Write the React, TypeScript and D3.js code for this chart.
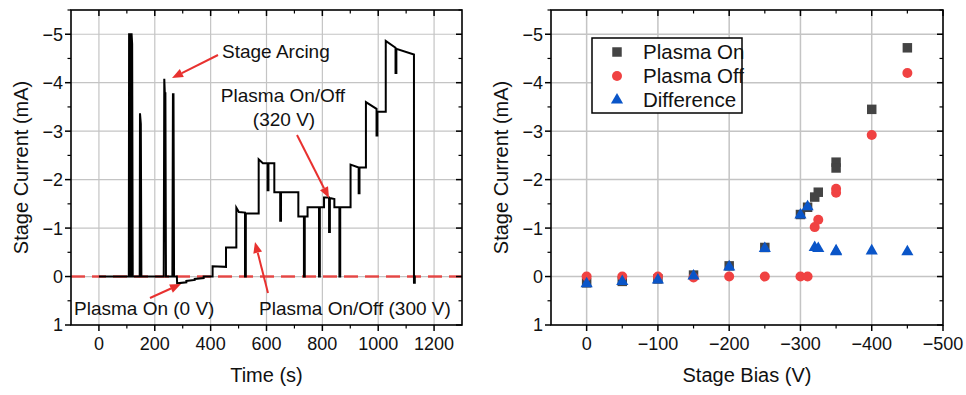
import React from "react";
import * as d3 from "d3";

// ---------- Left panel: stage current vs time ----------
const timeS = [
  0, 107, 108, 110, 111, 114, 115, 117, 119, 121,
  146, 147, 150, 152,
  232, 234, 236, 238, 240,
  263, 265, 267, 269,
  279, 280, 313, 313, 343, 343, 375, 375, 407,
  407, 455, 455, 492, 492, 501, 523, 523, 526, 526, 572,
  572, 587, 604, 604, 607, 607, 628, 628, 649, 649, 652, 652, 714,
  714, 734, 734, 737, 737, 747, 747, 788, 788, 791, 791, 806, 806, 824, 824, 827, 827, 843, 843, 861, 861, 864, 864, 901,
  901, 930, 930, 933, 933, 956,
  956, 994, 994, 997, 997, 1027,
  1027, 1062, 1062, 1065, 1065, 1128,
  1128, 1131, 1131, 1134,
];
const currentMA = [
  0, 0, -5.0, -5.0, 0, 0, -5.0, -5.0, -4.8, 0,
  0, -3.37, -3.15, 0,
  0, -4.08, -3.78, -3.78, 0,
  0, -3.76, -3.76, 0,
  0, 0.14, 0.12, 0.09, 0.07, 0.05, 0.03, 0.0, 0,
  -0.21, -0.2, -0.6, -0.6, -1.42, -1.33, -1.32, 0, 0, -1.3, -1.3,
  -2.42, -2.34, -2.34, -1.78, -1.78, -2.34, -2.34, -1.74, -1.74, -1.15, -1.15, -1.74, -1.74,
  -1.24, -1.24, 0, 0, -1.24, -1.24, -1.43, -1.43, 0, 0, -1.43, -1.43, -1.63, -1.63, -0.92, -0.92, -1.62, -1.6, -1.43, -1.43, 0, 0, -1.43, -1.43,
  -2.31, -2.25, -1.72, -1.72, -2.25, -2.25,
  -3.6, -3.46, -2.91, -2.91, -3.4, -3.4,
  -4.86, -4.72, -4.2, -4.2, -4.7, -4.58,
  0.13, 0.13, 0.0, 0,
];
const timeTicks = [0, 200, 400, 600, 800, 1000, 1200];
const currentTicks = [-5, -4, -3, -2, -1, 0, 1];

// ---------- Right panel: stage current vs bias ----------
const biasV = [0, -50, -100, -150, -200, -250, -300, -310, -320, -325, -350, -350, -400, -450];
const plasmaOnMA = [0.13, 0.1, 0.05, -0.03, -0.22, -0.6, -1.28, -1.43, -1.64, -1.74, -2.36, -2.24, -3.45, -4.72];
const plasmaOffMA = [0, 0, 0, 0.02, 0, 0, 0, 0, -1.02, -1.17, -1.81, -1.73, -2.92, -4.2];
const differenceMA = [0.13, 0.08, 0.05, -0.03, -0.22, -0.6, -1.29, -1.46, -0.62, -0.6, -0.55, -0.53, -0.55, -0.53];
const biasTicks = [0, -100, -200, -300, -400, -500];
const legendLabels = ["Plasma On", "Plasma Off", "Difference"];

const FONT = "'Liberation Sans', Arial, Helvetica, sans-serif";
const GRID = "#c4c4c4";
const RED = "#e8312f";
const COL_ON = "#444444";
const COL_OFF = "#f04242";
const COL_DIFF = "#0a55c8";
const fmt = d3.format("d");

type Arrow = { x1: number; y1: number; x2: number; y2: number };

function ArrowMark({ x1, y1, x2, y2 }: Arrow) {
  const dx = x2 - x1, dy = y2 - y1;
  const L = Math.hypot(dx, dy);
  const ux = dx / L, uy = dy / L;
  const hl = 11, hw = 4.5;
  const bx = x2 - ux * hl, by = y2 - uy * hl;
  const pts = [
    [x2, y2],
    [bx - uy * hw, by + ux * hw],
    [bx + uy * hw, by - ux * hw],
  ];
  return (
    <g>
      <line x1={x1} y1={y1} x2={bx} y2={by} stroke={RED} strokeWidth={2} />
      <polygon points={pts.map((p) => p.join(",")).join(" ")} fill={RED} />
    </g>
  );
}

function Frame({ x, y, xMajor, xMinor, yMajor, yMinor, xLabel, yLabel, yLabelX }: any) {
  const [x0, x1] = x.range();
  const [y0, y1] = y.range(); // y0 bottom, y1 top
  const major = 6, minor = 3.5;
  return (
    <g fontFamily={FONT}>
      {xMajor.map((v: number) => (
        <g key={"xm" + v}>
          <line x1={x(v)} x2={x(v)} y1={y0} y2={y0 + major} stroke="#000" strokeWidth={1.5} />
          <line x1={x(v)} x2={x(v)} y1={y1} y2={y1 + major} stroke="#000" strokeWidth={1.5} />
          <text x={x(v)} y={350} textAnchor="middle" fontSize={18} fill="#111">{fmt(v)}</text>
        </g>
      ))}
      {xMinor.map((v: number) => (
        <g key={"xn" + v}>
          <line x1={x(v)} x2={x(v)} y1={y0} y2={y0 + minor} stroke="#000" strokeWidth={1.2} />
          <line x1={x(v)} x2={x(v)} y1={y1} y2={y1 + minor} stroke="#000" strokeWidth={1.2} />
        </g>
      ))}
      {yMajor.map((v: number) => (
        <g key={"ym" + v}>
          <line x1={x0 - major} x2={x0} y1={y(v)} y2={y(v)} stroke="#000" strokeWidth={1.5} />
          <line x1={x1 - major} x2={x1} y1={y(v)} y2={y(v)} stroke="#000" strokeWidth={1.5} />
          <text x={x0 - 8} y={y(v)} dy="0.36em" textAnchor="end" fontSize={18} fill="#111">{fmt(v)}</text>
        </g>
      ))}
      {yMinor.map((v: number) => (
        <g key={"yn" + v}>
          <line x1={x0 - minor} x2={x0} y1={y(v)} y2={y(v)} stroke="#000" strokeWidth={1.2} />
          <line x1={x1 - minor} x2={x1} y1={y(v)} y2={y(v)} stroke="#000" strokeWidth={1.2} />
        </g>
      ))}
      <rect x={x0} y={y1} width={x1 - x0} height={y0 - y1} fill="none" stroke="#000" strokeWidth={1.6} />
      <text x={(x0 + x1) / 2} y={382} textAnchor="middle" fontSize={20} fill="#111">{xLabel}</text>
      <text
        transform={`translate(${yLabelX},${(y0 + y1) / 2}) rotate(-90)`}
        textAnchor="middle"
        fontSize={20}
        fill="#111"
      >
        {yLabel}
      </text>
    </g>
  );
}

export default function App() {
  const xL = d3.scaleLinear().domain([-100, 1300]).range([71, 462]);
  const yL = d3.scaleLinear().domain([1, -5.5]).range([325, 10]);
  const xR = d3.scaleLinear().domain([50, -500]).range([551, 943]);
  const yR = d3.scaleLinear().domain([1, -5.5]).range([325, 10]);

  const line = d3
    .line<number>()
    .x((_, i) => xL(timeS[i]))
    .y((_, i) => yL(currentMA[i]));

  const yMinor = d3.range(-5.5, 1, 1);
  const xMinorL = d3.range(-100, 1300, 200).filter((v) => v > -100);
  const xMinorR = d3.range(-50, -500, -100);
  const gridY = [-5, -4, -3, -2, -1, 0];

  const sq = d3.symbol(d3.symbolSquare, 90)();
  const tri = d3.symbol(d3.symbolTriangle, 64)();

  const legX = 592, legY = 38;

  return (
    <div style={{ position: "absolute", left: 0, top: 0 }}>
      <svg width={966} height={395} style={{ display: "block", background: "#fff" }}>
        {/* ---------- Left panel ---------- */}
        <g>
          {timeTicks.filter((v) => v < 1300).map((v) => (
            <line key={"gl" + v} x1={xL(v)} x2={xL(v)} y1={yL(1)} y2={yL(-5.5)} stroke={GRID} strokeWidth={1.2} />
          ))}
          {gridY.map((v) => (
            <line key={"gh" + v} x1={71} x2={462} y1={yL(v)} y2={yL(v)} stroke={GRID} strokeWidth={1.2} />
          ))}
          <line x1={71} x2={462} y1={yL(0)} y2={yL(0)} stroke={RED} strokeOpacity={0.85} strokeWidth={2.5} strokeDasharray="14,7" />
          <path d={line(currentMA) || ""} fill="none" stroke="#000" strokeWidth={2} strokeLinejoin="miter" />
          <Frame
            x={xL}
            y={yL}
            xMajor={timeTicks}
            xMinor={xMinorL}
            yMajor={currentTicks}
            yMinor={yMinor}
            xLabel="Time (s)"
            yLabel="Stage Current (mA)"
            yLabelX={28}
          />
          <g fontFamily={FONT} fontSize={19} fill="#111">
            <text x={222} y={58}>Stage Arcing</text>
            <text x={283} y={102} textAnchor="middle">Plasma On/Off</text>
            <text x={284} y={126} textAnchor="middle">(320 V)</text>
            <text x={74} y={315}>Plasma On (0 V)</text>
            <text x={259} y={315}>Plasma On/Off (300 V)</text>
          </g>
          <ArrowMark x1={218} y1={55} x2={172} y2={78} />
          <ArrowMark x1={297} y1={135} x2={329} y2={198} />
          <ArrowMark x1={150} y1={298} x2={181} y2={284} />
          <ArrowMark x1={268} y1={293} x2={255} y2={242} />
        </g>

        {/* ---------- Right panel ---------- */}
        <g>
          {biasTicks.filter((v) => v > -500).map((v) => (
            <line key={"rg" + v} x1={xR(v)} x2={xR(v)} y1={yR(1)} y2={yR(-5.5)} stroke={GRID} strokeWidth={1.5} />
          ))}
          {gridY.map((v) => (
            <line key={"rh" + v} x1={551} x2={943} y1={yR(v)} y2={yR(v)} stroke={GRID} strokeWidth={1.5} />
          ))}
          {biasV.map((b, i) => (
            <path key={"on" + i} d={sq || ""} transform={`translate(${xR(b)},${yR(plasmaOnMA[i])})`} fill={COL_ON} />
          ))}
          {biasV.map((b, i) => (
            <circle key={"off" + i} cx={xR(b)} cy={yR(plasmaOffMA[i])} r={5} fill={COL_OFF} />
          ))}
          {biasV.map((b, i) => (
            <path key={"df" + i} d={tri || ""} transform={`translate(${xR(b)},${yR(differenceMA[i]) + 1})`} fill={COL_DIFF} />
          ))}
          <Frame
            x={xR}
            y={yR}
            xMajor={biasTicks}
            xMinor={xMinorR}
            yMajor={currentTicks}
            yMinor={yMinor}
            xLabel="Stage Bias (V)"
            yLabel="Stage Current (mA)"
            yLabelX={508}
          />
          <g fontFamily={FONT}>
            <rect x={legX} y={legY} width={150} height={75} fill="#fff" stroke="#000" strokeWidth={1.5} />
            <path d={sq || ""} transform={`translate(${legX + 25},${legY + 14})`} fill={COL_ON} />
            <circle cx={legX + 25} cy={legY + 38} r={5} fill={COL_OFF} />
            <path d={tri || ""} transform={`translate(${legX + 25},${legY + 62})`} fill={COL_DIFF} />
            {legendLabels.map((t, i) => (
              <text key={t} x={legX + 51} y={legY + 14 + i * 24} dy="0.36em" fontSize={20.5} fill="#111">
                {t}
              </text>
            ))}
          </g>
        </g>
      </svg>
    </div>
  );
}
